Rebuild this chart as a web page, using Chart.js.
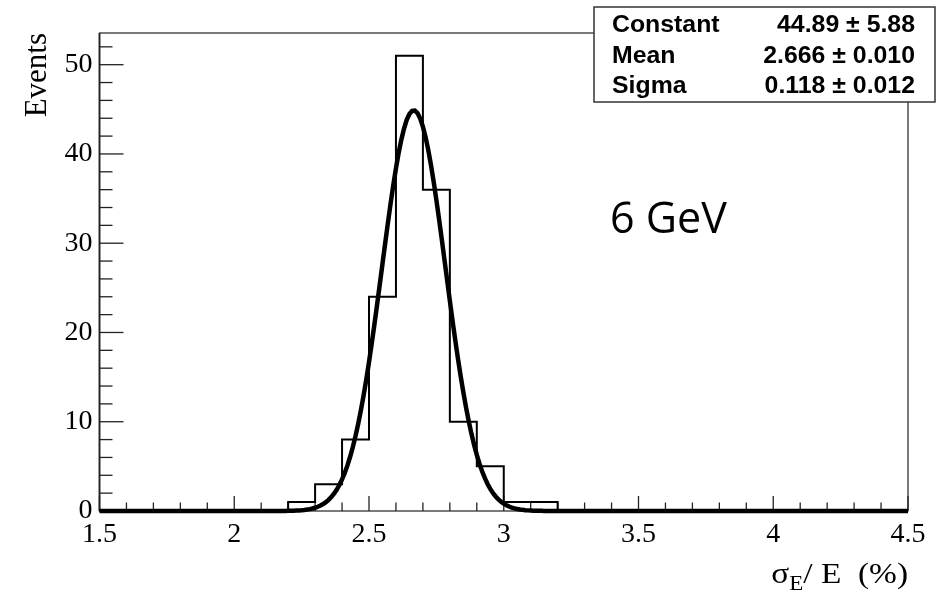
<!DOCTYPE html>
<html>
<head>
<meta charset="utf-8">
<script src="https://cdn.jsdelivr.net/npm/chart.js@4"></script>
<style>
  html, body { margin: 0; padding: 0; background: #fff; }
  #wrap { width: 951px; height: 594px; }
</style>
</head>
<body>
<div id="wrap"><canvas id="resolucionChart"></canvas></div>
<script>
// Límite inferior de cada bin (ancho 0.1)
const binLow = [1.5, 1.6, 1.7, 1.8, 1.9, 2.0, 2.1, 2.2, 2.3, 2.4,
                2.5, 2.6, 2.7, 2.8, 2.9, 3.0, 3.1, 3.2, 3.3, 3.4,
                3.5, 3.6, 3.7, 3.8, 3.9, 4.0, 4.1, 4.2, 4.3, 4.4];
const binHigh = 4.5;
// Eventos por bin
const counts = [0, 0, 0, 0, 0, 0, 0, 1, 3, 8,
                24, 51, 36, 10, 5, 1, 1, 0, 0, 0,
                0, 0, 0, 0, 0, 0, 0, 0, 0, 0];

// Etiquetas de los ejes
const xTicks = [1.5, 2, 2.5, 3, 3.5, 4, 4.5];
const yTicks = [0, 10, 20, 30, 40, 50];

// Resultado del ajuste gaussiano
const fitConstant = 44.89;
const fitMean = 2.666;
const fitSigma = 0.118;
const statNames = ["Constant", "Mean", "Sigma"];
const statValues = ["44.89 \u00b1 5.88", "2.666 \u00b1 0.010", "0.118 \u00b1 0.012"];

// Contorno del histograma: cada punto mantiene su valor hasta el siguiente borde
const histPoints = binLow.map((x, i) => ({ x: x, y: counts[i] }));
histPoints.push({ x: binHigh, y: counts[counts.length - 1] });

// Curva del ajuste a partir de los parámetros
const fitPoints = [];
for (let k = 0; k <= 300; k++) {
    const x = binLow[0] + k * 0.01;
    fitPoints.push({ x: x, y: fitConstant * Math.exp(-0.5 * Math.pow((x - fitMean) / fitSigma, 2)) });
}

function linea(ctx, x1, y1, x2, y2) {
    ctx.beginPath();
    ctx.moveTo(x1, y1);
    ctx.lineTo(x2, y2);
    ctx.stroke();
}

function texto(ctx, s, x, y, font, align, sx) {
    ctx.save();
    ctx.font = font;
    ctx.textAlign = align;
    ctx.textBaseline = 'alphabetic';
    ctx.translate(x, y);
    ctx.scale(sx || 1, 1);
    ctx.fillText(s, 0, 0);
    ctx.restore();
}

// Marco y marcas de los ejes hacia dentro
const marcoPlugin = {
    id: 'marco',
    beforeDatasetsDraw(chart) {
        const { ctx, chartArea: a, scales: { x, y } } = chart;
        ctx.save();
        ctx.strokeStyle = '#222';
        ctx.lineWidth = 1.2;
        ctx.strokeRect(a.left, a.top, a.right - a.left, a.bottom - a.top);
        ctx.lineWidth = 1.8;
        linea(ctx, a.left, a.top, a.left, a.bottom);
        ctx.lineWidth = 1.3;
        for (let k = 0; k <= 30; k++) {
            const px = x.getPixelForValue(1.5 + k * 0.1);
            const len = k % 5 === 0 ? 15 : 8.5;
            linea(ctx, px, a.bottom, px, a.bottom - len);
        }
        for (let v = 0; v <= 52; v += 2) {
            const py = y.getPixelForValue(v);
            const len = v % 10 === 0 ? 24 : 13;
            linea(ctx, a.left, py, a.left + len, py);
        }
        ctx.restore();
    },
    afterDraw(chart) {
        const { ctx, chartArea: a } = chart;
        ctx.save();

        // Caja de estadísticas
        ctx.fillStyle = '#fff';
        ctx.fillRect(594, 7, 341, 95);
        ctx.strokeStyle = '#333';
        ctx.lineWidth = 1.5;
        ctx.strokeRect(594, 7, 341, 95);
        ctx.fillStyle = '#000';
        const filas = [32, 63, 93];
        statNames.forEach((n, i) => {
            texto(ctx, n, 612, filas[i], 'bold 23px "Liberation Sans", Arial', 'left', 1.08);
            texto(ctx, statValues[i], 915, filas[i], 'bold 23px "Liberation Sans", Arial', 'right', 1.08);
        });

        texto(ctx, '6 GeV', 610, 233, '43px "Open Sans", sans-serif', 'left');

        // Título del eje Y
        ctx.save();
        ctx.translate(46, a.top);
        ctx.rotate(-Math.PI / 2);
        ctx.font = '31px "Liberation Serif", serif';
        ctx.textAlign = 'right';
        ctx.textBaseline = 'alphabetic';
        ctx.fillText('Events', 0, 0);
        ctx.restore();

        // Título del eje X: sigma_E / E (%), alineado al final del eje
        const sx = 1.15;
        const fGrande = '29px "Liberation Serif", serif';
        const fSub = '20px "Liberation Serif", serif';
        ctx.translate(a.right, 583);
        ctx.scale(sx, 1);
        ctx.font = fGrande;
        const w1 = ctx.measureText('\u03c3').width;
        const w3 = ctx.measureText('/ E  (%)').width;
        ctx.font = fSub;
        const w2 = ctx.measureText('E').width;
        const x0 = -(w1 + w2 + w3);
        ctx.textAlign = 'left';
        ctx.textBaseline = 'alphabetic';
        ctx.font = fGrande;
        ctx.fillText('\u03c3', x0, 0);
        ctx.font = fSub;
        ctx.fillText('E', x0 + w1, 7);
        ctx.font = fGrande;
        ctx.fillText('/ E  (%)', x0 + w1 + w2, 0);
        ctx.restore();
    }
};

const config = {
    type: 'line',
    data: {
        datasets: [{
            label: 'Ajuste',
            data: fitPoints,
            borderColor: '#000',
            borderWidth: 4.5,
            pointRadius: 0,
            tension: 0,
            clip: false,
            order: 0
        }, {
            label: 'Eventos',
            data: histPoints,
            borderColor: '#000',
            borderWidth: 2,
            pointRadius: 0,
            stepped: true,
            clip: false,
            order: 1
        }]
    },
    options: {
        responsive: true,
        maintainAspectRatio: false,
        devicePixelRatio: 1,
        animation: false,
        layout: { padding: { left: 0, top: 33, right: 43, bottom: 0 } },
        plugins: { legend: { display: false }, tooltip: { enabled: false } },
        scales: {
            x: {
                type: 'linear',
                min: 1.5,
                max: 4.5,
                grid: { display: false, drawTicks: false },
                border: { display: false },
                afterBuildTicks: s => { s.ticks = xTicks.map(v => ({ value: v })); },
                afterFit: s => { s.height = 83; },
                ticks: {
                    padding: 7,
                    maxRotation: 0,
                    autoSkip: false,
                    color: '#000',
                    font: { family: '"Liberation Serif", serif', size: 28 },
                    callback: v => String(v)
                }
            },
            y: {
                min: 0,
                max: 53.55,
                grid: { display: false, drawTicks: false },
                border: { display: false },
                afterBuildTicks: s => { s.ticks = yTicks.map(v => ({ value: v })); },
                afterFit: s => { s.width = 99.5; },
                ticks: {
                    padding: 7,
                    color: '#000',
                    font: { family: '"Liberation Serif", serif', size: 28 },
                    callback: v => String(v)
                }
            }
        }
    },
    plugins: [marcoPlugin]
};

window.onload = function() {
    const ctx = document.getElementById('resolucionChart').getContext('2d');
    new Chart(ctx, config);
};
</script>
</body>
</html>
